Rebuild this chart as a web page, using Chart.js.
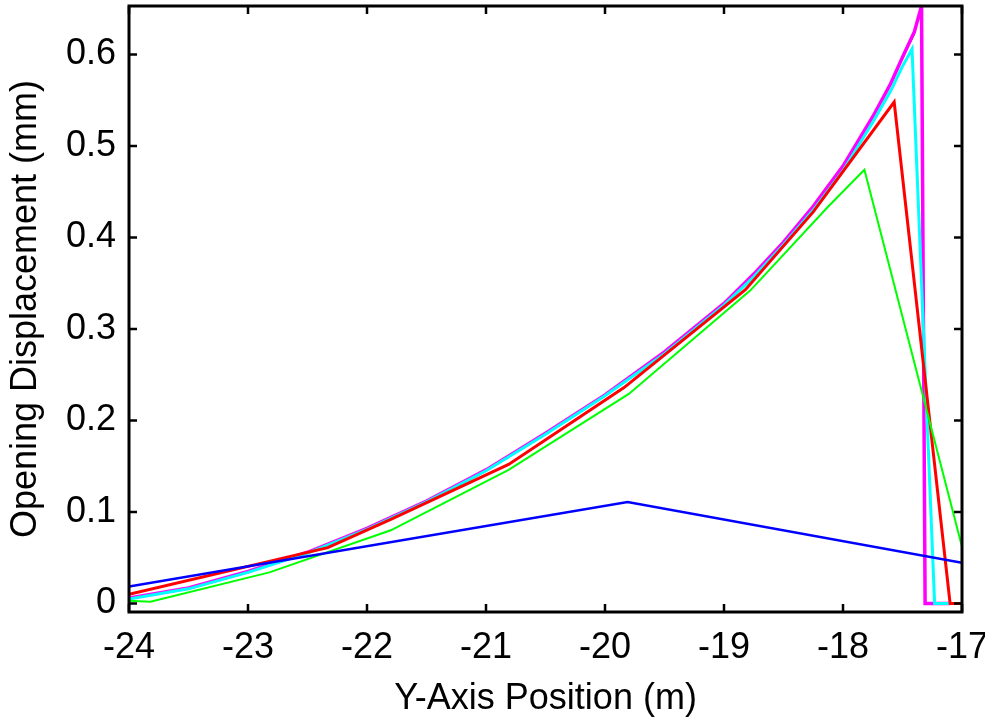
<!DOCTYPE html>
<html><head><meta charset="utf-8">
<style>html,body{margin:0;padding:0;background:#fff;overflow:hidden} #wrap{width:985px;height:719px;}</style>
<script src="https://cdn.jsdelivr.net/npm/chart.js@4/dist/chart.umd.min.js"></script>
</head><body><div id="wrap"><canvas id="c" width="985" height="719"></canvas></div>
<script>
// Axis ticks
const xTicks = [-24, -23, -22, -21, -20, -19, -18, -17];
const yTicks = [0, 0.1, 0.2, 0.3, 0.4, 0.5, 0.6];

// Series
const blueX = [-24, -19.81, -17];
const blueY = [0.0185, 0.111, 0.0446];

const greenX = [-24, -23.82, -22.82, -21.8, -20.81, -19.8, -18.78, -18.13, -17.82, -17];
const greenY = [0.003, 0.002, 0.034, 0.08, 0.146, 0.229, 0.342, 0.433, 0.474, 0.062];

const redX = [-24, -22.33, -21.8, -20.81, -19.84, -18.82, -18.25, -17.57, -17.1, -17];
const redY = [0.01, 0.061, 0.092, 0.152, 0.236, 0.343, 0.428, 0.548, 0, 0];

const cyanX = [-24, -23.5, -23, -22.5, -22, -21.5, -21, -20.5, -20, -19.5, -19, -18.75, -18.5, -18.25, -18, -17.75, -17.6, -17.5, -17.42, -17.23, -17.1];
const cyanY = [0.005, 0.016, 0.034, 0.055, 0.081, 0.111, 0.145, 0.185, 0.227, 0.273, 0.326, 0.357, 0.392, 0.43, 0.473, 0.526, 0.56, 0.587, 0.606, 0, 0];

const magentaX = [-24, -23.5, -23, -22.5, -22, -21.5, -21, -20.5, -20, -19.5, -19, -18.75, -18.5, -18.25, -18, -17.75, -17.6, -17.5, -17.4, -17.34, -17.31, -17.1];
const magentaY = [0.006, 0.017, 0.035, 0.056, 0.082, 0.112, 0.146, 0.186, 0.228, 0.275, 0.328, 0.36, 0.395, 0.434, 0.478, 0.532, 0.568, 0.597, 0.625, 0.653, 0, 0];

const blackX = [-24, -23.5, -23, -22.5, -22, -21.5, -21, -20.5, -20, -19.5, -19, -18.75, -18.5, -18.25, -18, -17.75, -17.6, -17.5, -17.4, -17.37, -17.34, -17.32];
const blackY = [0.006, 0.017, 0.035, 0.056, 0.082, 0.112, 0.146, 0.186, 0.228, 0.275, 0.328, 0.36, 0.395, 0.434, 0.478, 0.532, 0.567, 0.595, 0.622, 0.637, 0.656, 0.68];

function pts(xs, ys) { return xs.map((x, i) => ({ x: x, y: ys[i] })); }
function ds(xs, ys, color, w) {
  return { data: pts(xs, ys), borderColor: color, backgroundColor: color, borderWidth: w,
           showLine: true, pointRadius: 0, fill: false, tension: 0 };
}

const FONT = "'Liberation Sans', Arial, Helvetica, sans-serif";

const frame = {
  id: 'frame',
  afterDatasetsDraw(chart) {
    const { ctx, chartArea: a, scales: { x, y } } = chart;
    ctx.save();
    ctx.strokeStyle = '#000';
    ctx.lineWidth = 2.5;
    ctx.beginPath();
    const L = 8;
    xTicks.forEach(v => {
      const p = x.getPixelForValue(v);
      ctx.moveTo(p, a.bottom); ctx.lineTo(p, a.bottom - L);
      ctx.moveTo(p, a.top); ctx.lineTo(p, a.top + L);
    });
    yTicks.forEach(v => {
      const p = y.getPixelForValue(v);
      ctx.moveTo(a.left, p); ctx.lineTo(a.left + L, p);
      ctx.moveTo(a.right, p); ctx.lineTo(a.right - L, p);
    });
    ctx.stroke();
    ctx.lineWidth = 3;
    ctx.strokeRect(a.left, a.top, a.right - a.left, a.bottom - a.top);
    ctx.restore();
  }
};

new Chart(document.getElementById('c'), {
  type: 'scatter',
  data: {
    datasets: [
      ds(blueX, blueY, '#0000ff', 2.5),
      ds(greenX, greenY, '#00ff00', 2),
      ds(redX, redY, '#ff0000', 3),
      ds(cyanX, cyanY, '#00ffff', 3),
      ds(magentaX, magentaY, '#ff00ff', 3.5),
      ds(blackX, blackY, '#000000', 1)
    ]
  },
  options: {
    responsive: false,
    animation: false,
    devicePixelRatio: 1,
    layout: { padding: { top: 6, right: 23, left: 0, bottom: 0 } },
    plugins: { legend: { display: false }, tooltip: { enabled: false } },
    scales: {
      x: {
        type: 'linear', min: -24, max: -17,
        afterBuildTicks: s => { s.ticks = xTicks.map(v => ({ value: v })); },
        afterFit: s => { s.height = 107; s.paddingLeft = 0; s.paddingRight = 0; },
        grid: { display: false, drawTicks: false },
        border: { display: false },
        ticks: { color: '#000', font: { family: FONT, size: 36 }, padding: 14, maxRotation: 0, autoSkip: false,
                 callback: v => String(v) },
        title: { display: true, text: 'Y-Axis Position (m)', color: '#000', font: { family: FONT, size: 36, lineHeight: 1 },
                 padding: { top: 0, bottom: 1.5 } }
      },
      y: {
        type: 'linear', min: -0.0093, max: 0.653,
        afterBuildTicks: s => { s.ticks = yTicks.map(v => ({ value: v })); },
        afterFit: s => { s.width = 129; s.paddingTop = 0; s.paddingBottom = 0; },
        grid: { display: false, drawTicks: false },
        border: { display: false },
        ticks: { color: '#000', font: { family: FONT, size: 36 }, padding: 13, autoSkip: false,
                 callback: v => (v === 0 ? '0' : v.toFixed(1)) },
        title: { display: true, text: 'Opening Displacement (mm)', color: '#000', font: { family: FONT, size: 36, lineHeight: 1 },
                 padding: { top: 8, bottom: 0 } }
      }
    }
  },
  plugins: [frame]
});
</script>
</body></html>
